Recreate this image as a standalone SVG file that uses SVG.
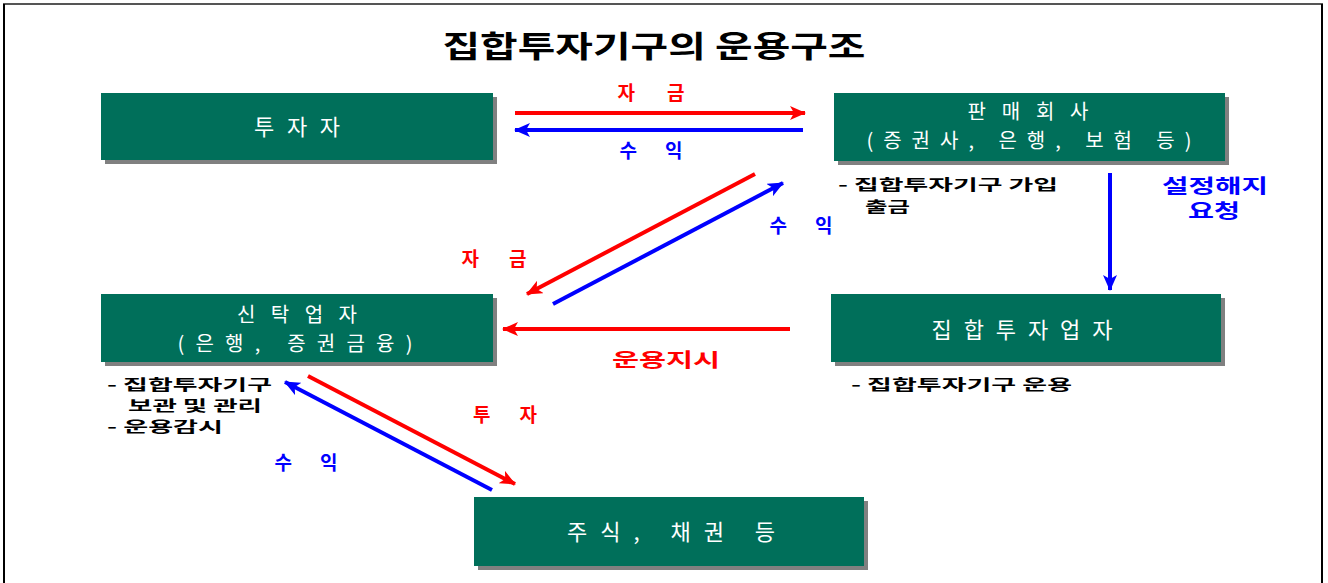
<svg xmlns="http://www.w3.org/2000/svg" width="1328" height="583" viewBox="0 0 1328 583">
<style>
.box{fill:#006F5A}
.sh{fill:#808080}
.nt{font-family:"Noto Sans CJK KR","Noto Sans",sans-serif;font-size:22px;fill:#ffffff;text-anchor:middle}
.nt2{font-size:20px}
.lb{font-family:"Noto Sans CJK KR","Noto Sans",sans-serif;font-size:19px;font-weight:bold;text-anchor:middle}
.an{font-family:"Noto Sans CJK KR","Noto Sans",sans-serif;font-size:15px;font-weight:bold;fill:#000000}
.r{fill:#FF0000}
.b{fill:#0000FF}
.lr{stroke:#FF0000;stroke-width:4;fill:none;marker-end:url(#mr)}
.lbl{stroke:#0000FF;stroke-width:4;fill:none;marker-end:url(#mb)}
</style>
<defs>
<marker id="mr" viewBox="0 0 16 14" refX="15" refY="7" markerWidth="16" markerHeight="14" markerUnits="userSpaceOnUse" orient="auto"><path d="M0,0 L16,7 L0,14 L4,7 z" fill="#FF0000"/></marker>
<marker id="mb" viewBox="0 0 16 14" refX="15" refY="7" markerWidth="16" markerHeight="14" markerUnits="userSpaceOnUse" orient="auto"><path d="M0,0 L16,7 L0,14 L4,7 z" fill="#0000FF"/></marker>
</defs>
<rect x="0" y="0" width="1328" height="583" fill="#ffffff"/>
<g id="frame">
<line x1="3" y1="4" x2="1323" y2="4" stroke="#555555" stroke-width="2"/>
<line x1="4" y1="4" x2="4" y2="583" stroke="#000000" stroke-width="2"/>
<line x1="1322" y1="4" x2="1322" y2="583" stroke="#000000" stroke-width="2"/>
</g>
<text id="title" x="654" y="57" style="font-family:'Noto Sans CJK KR','Noto Sans',sans-serif;font-size:30px;font-weight:bold;text-anchor:middle" fill="#000000" textLength="423" lengthAdjust="spacingAndGlyphs">집합투자기구의 운용구조</text>

<g id="investor">
<rect class="sh" x="105" y="97" width="392" height="67"/>
<rect class="box" x="101" y="93" width="392" height="67"/>
<text class="nt" x="297" y="135" textLength="86" lengthAdjust="spacing">투자자</text>
</g>
<g id="seller">
<rect class="sh" x="838" y="97" width="391" height="68"/>
<rect class="box" x="834" y="93" width="391" height="68"/>
<text class="nt nt2" x="1028" y="119" textLength="121" lengthAdjust="spacing">판매회사</text>
<text class="nt nt2" x="1029" y="148" textLength="325" lengthAdjust="spacing">(증권사, 은행, 보험 등)</text>
<text class="an" x="838" y="190" textLength="220" lengthAdjust="spacingAndGlyphs">- 집합투자기구 가입</text>
<text class="an" x="865" y="212" textLength="45" lengthAdjust="spacingAndGlyphs">출금</text>
</g>
<g id="trustee">
<rect class="sh" x="105" y="298" width="392" height="68"/>
<rect class="box" x="101" y="294" width="392" height="68"/>
<text class="nt nt2" x="297" y="322" textLength="120" lengthAdjust="spacing">신탁업자</text>
<text class="nt nt2" x="295" y="351" textLength="235" lengthAdjust="spacing">(은행, 증권금융)</text>
<text class="an" x="107" y="390" textLength="165" lengthAdjust="spacingAndGlyphs">- 집합투자기구</text>
<text class="an" x="128" y="411" textLength="134" lengthAdjust="spacingAndGlyphs">보관 및 관리</text>
<text class="an" x="107" y="432" textLength="116" lengthAdjust="spacingAndGlyphs">- 운용감시</text>
</g>
<g id="manager">
<rect class="sh" x="835" y="298" width="390" height="68"/>
<rect class="box" x="831" y="294" width="390" height="68"/>
<text class="nt" x="1022" y="338" textLength="181" lengthAdjust="spacing">집합투자업자</text>
<text class="an" x="851" y="390" textLength="221" lengthAdjust="spacingAndGlyphs">- 집합투자기구 운용</text>
</g>
<g id="securities">
<rect class="sh" x="478" y="501" width="390" height="69"/>
<rect class="box" x="474" y="497" width="390" height="69"/>
<text class="nt" x="671" y="540" textLength="208" lengthAdjust="spacing">주식, 채권 등</text>
</g>

<g id="connectors">
<line class="lr" x1="515" y1="113" x2="805" y2="113"/>
<line class="lbl" x1="803" y1="130" x2="515" y2="130"/>
<line class="lr" x1="755" y1="174" x2="527" y2="294"/>
<line class="lbl" x1="553" y1="304" x2="783" y2="183"/>
<line class="lr" x1="790" y1="329" x2="503" y2="329"/>
<line class="lr" x1="308" y1="376" x2="515" y2="484"/>
<line class="lbl" x1="492" y1="490" x2="285" y2="382"/>
<line class="lbl" x1="1110" y1="173" x2="1110" y2="290"/>
</g>
<g id="labels">
<text class="lb r" x="651" y="100" textLength="67" lengthAdjust="spacing">자 금</text>
<text class="lb b" x="651" y="158" textLength="63" lengthAdjust="spacing">수 익</text>
<text class="lb r" x="494" y="266" textLength="65" lengthAdjust="spacing">자 금</text>
<text class="lb b" x="801" y="233" textLength="63" lengthAdjust="spacing">수 익</text>
<text class="lb r" x="666" y="367" textLength="108" lengthAdjust="spacingAndGlyphs">운용지시</text>
<text class="lb r" x="505" y="422" textLength="64" lengthAdjust="spacing">투 자</text>
<text class="lb b" x="306" y="470" textLength="63" lengthAdjust="spacing">수 익</text>
<text class="lb b" x="1215" y="193" textLength="106" lengthAdjust="spacingAndGlyphs">설정해지</text>
<text class="lb b" x="1214" y="218" textLength="52" lengthAdjust="spacingAndGlyphs">요청</text>
</g>
</svg>
